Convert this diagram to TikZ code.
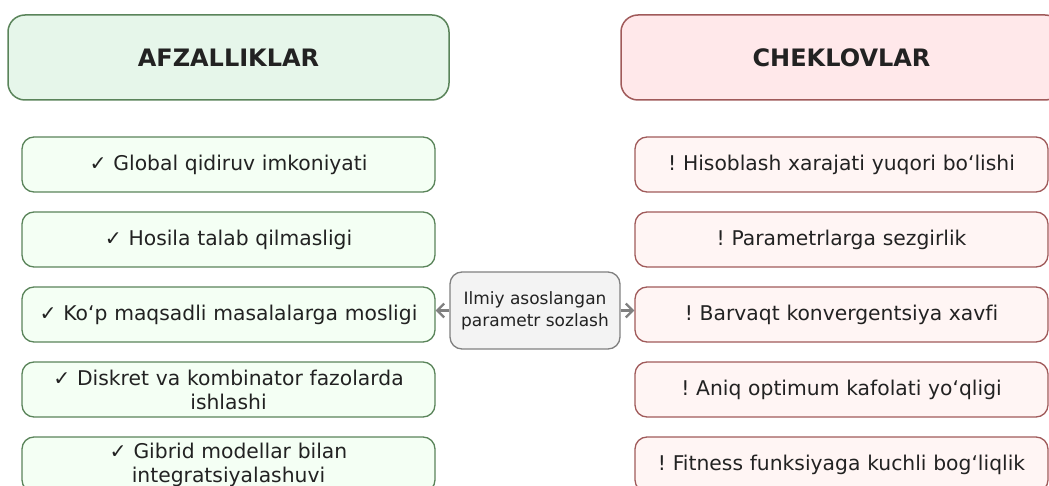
\documentclass[tikz,border=0pt]{standalone}
\usepackage{fontspec}
\setmainfont[Ligatures=NoCommon]{DejaVu Sans}
\usetikzlibrary{arrows.meta}
\frenchspacing
\definecolor{gborder}{HTML}{5A845A}
\definecolor{ghead}{HTML}{E6F6EA}
\definecolor{gitem}{HTML}{F4FFF4}
\definecolor{rborder}{HTML}{A05A5A}
\definecolor{rhead}{HTML}{FFE8EA}
\definecolor{ritem}{HTML}{FFF5F4}
\definecolor{mborder}{HTML}{808080}
\definecolor{mfill}{HTML}{F3F3F3}
\definecolor{txt}{HTML}{222222}
\tikzset{
  header/.style={draw, line width=1.5pt, rounded corners=17pt, minimum width=441pt, minimum height=85pt, font=\fontsize{24}{28}\selectfont\bfseries, text=txt, anchor=center},
  pitem/.style={draw=gborder, fill=gitem, line width=1.3pt, rounded corners=12pt, minimum width=413pt, minimum height=55pt, text width=405pt, align=center, font=\fontsize{20.3}{24}\selectfont, text=txt},
  citem/.style={draw=rborder, fill=ritem, line width=1.3pt, rounded corners=12pt, minimum width=413pt, minimum height=55pt, text width=405pt, align=center, font=\fontsize{20.3}{24}\selectfont, text=txt},
  midbox/.style={draw=mborder, fill=mfill, line width=1.3pt, rounded corners=12pt, minimum width=170pt, minimum height=77pt, align=center, font=\fontsize{17}{22}\selectfont, text=txt},
  conn/.style={draw=mborder, line width=2.2pt, -{Straight Barb[length=7pt,width=14pt,line width=2.2pt]}}
}
\begin{document}
\begin{tikzpicture}[x=1pt,y=-1pt]
\useasboundingbox (0,0) rectangle (1049,486);
\node[header, draw=gborder, fill=ghead] (hl) at (228.5,57.5) {AFZALLIKLAR};
\node[header, draw=rborder, fill=rhead] (hr) at (841.5,57.5) {CHEKLOVLAR};
\node[pitem] (p1) at (228.5,164.5) {✓ Global qidiruv imkoniyati};
\node[pitem] (p2) at (228.5,239.5) {✓ Hosila talab qilmasligi};
\node[pitem] (p3) at (228.5,314.5) {✓ Ko‘p maqsadli masalalarga mosligi};
\node[pitem] (p4) at (228.5,389.5) {✓ Diskret va kombinator fazolarda\\ishlashi};
\node[pitem] (p5) at (228.5,464.5) {✓ Gibrid modellar bilan\\integratsiyalashuvi};
\node[citem] (c1) at (841.5,164.5) {! Hisoblash xarajati yuqori bo‘lishi};
\node[citem] (c2) at (841.5,239.5) {! Parametrlarga sezgirlik};
\node[citem] (c3) at (841.5,314.5) {! Barvaqt konvergentsiya xavfi};
\node[citem] (c4) at (841.5,389.5) {! Aniq optimum kafolati yo‘qligi};
\node[citem] (c5) at (841.5,464.5) {! Fitness funksiyaga kuchli bog‘liqlik};
\node[midbox] (m) at (535,310.5) {Ilmiy asoslangan\\parametr sozlash};
\draw[conn] (m.west) -- (p3.east |- m.west);
\draw[conn] (m.east) -- (c3.west |- m.east);
\end{tikzpicture}
\end{document}
